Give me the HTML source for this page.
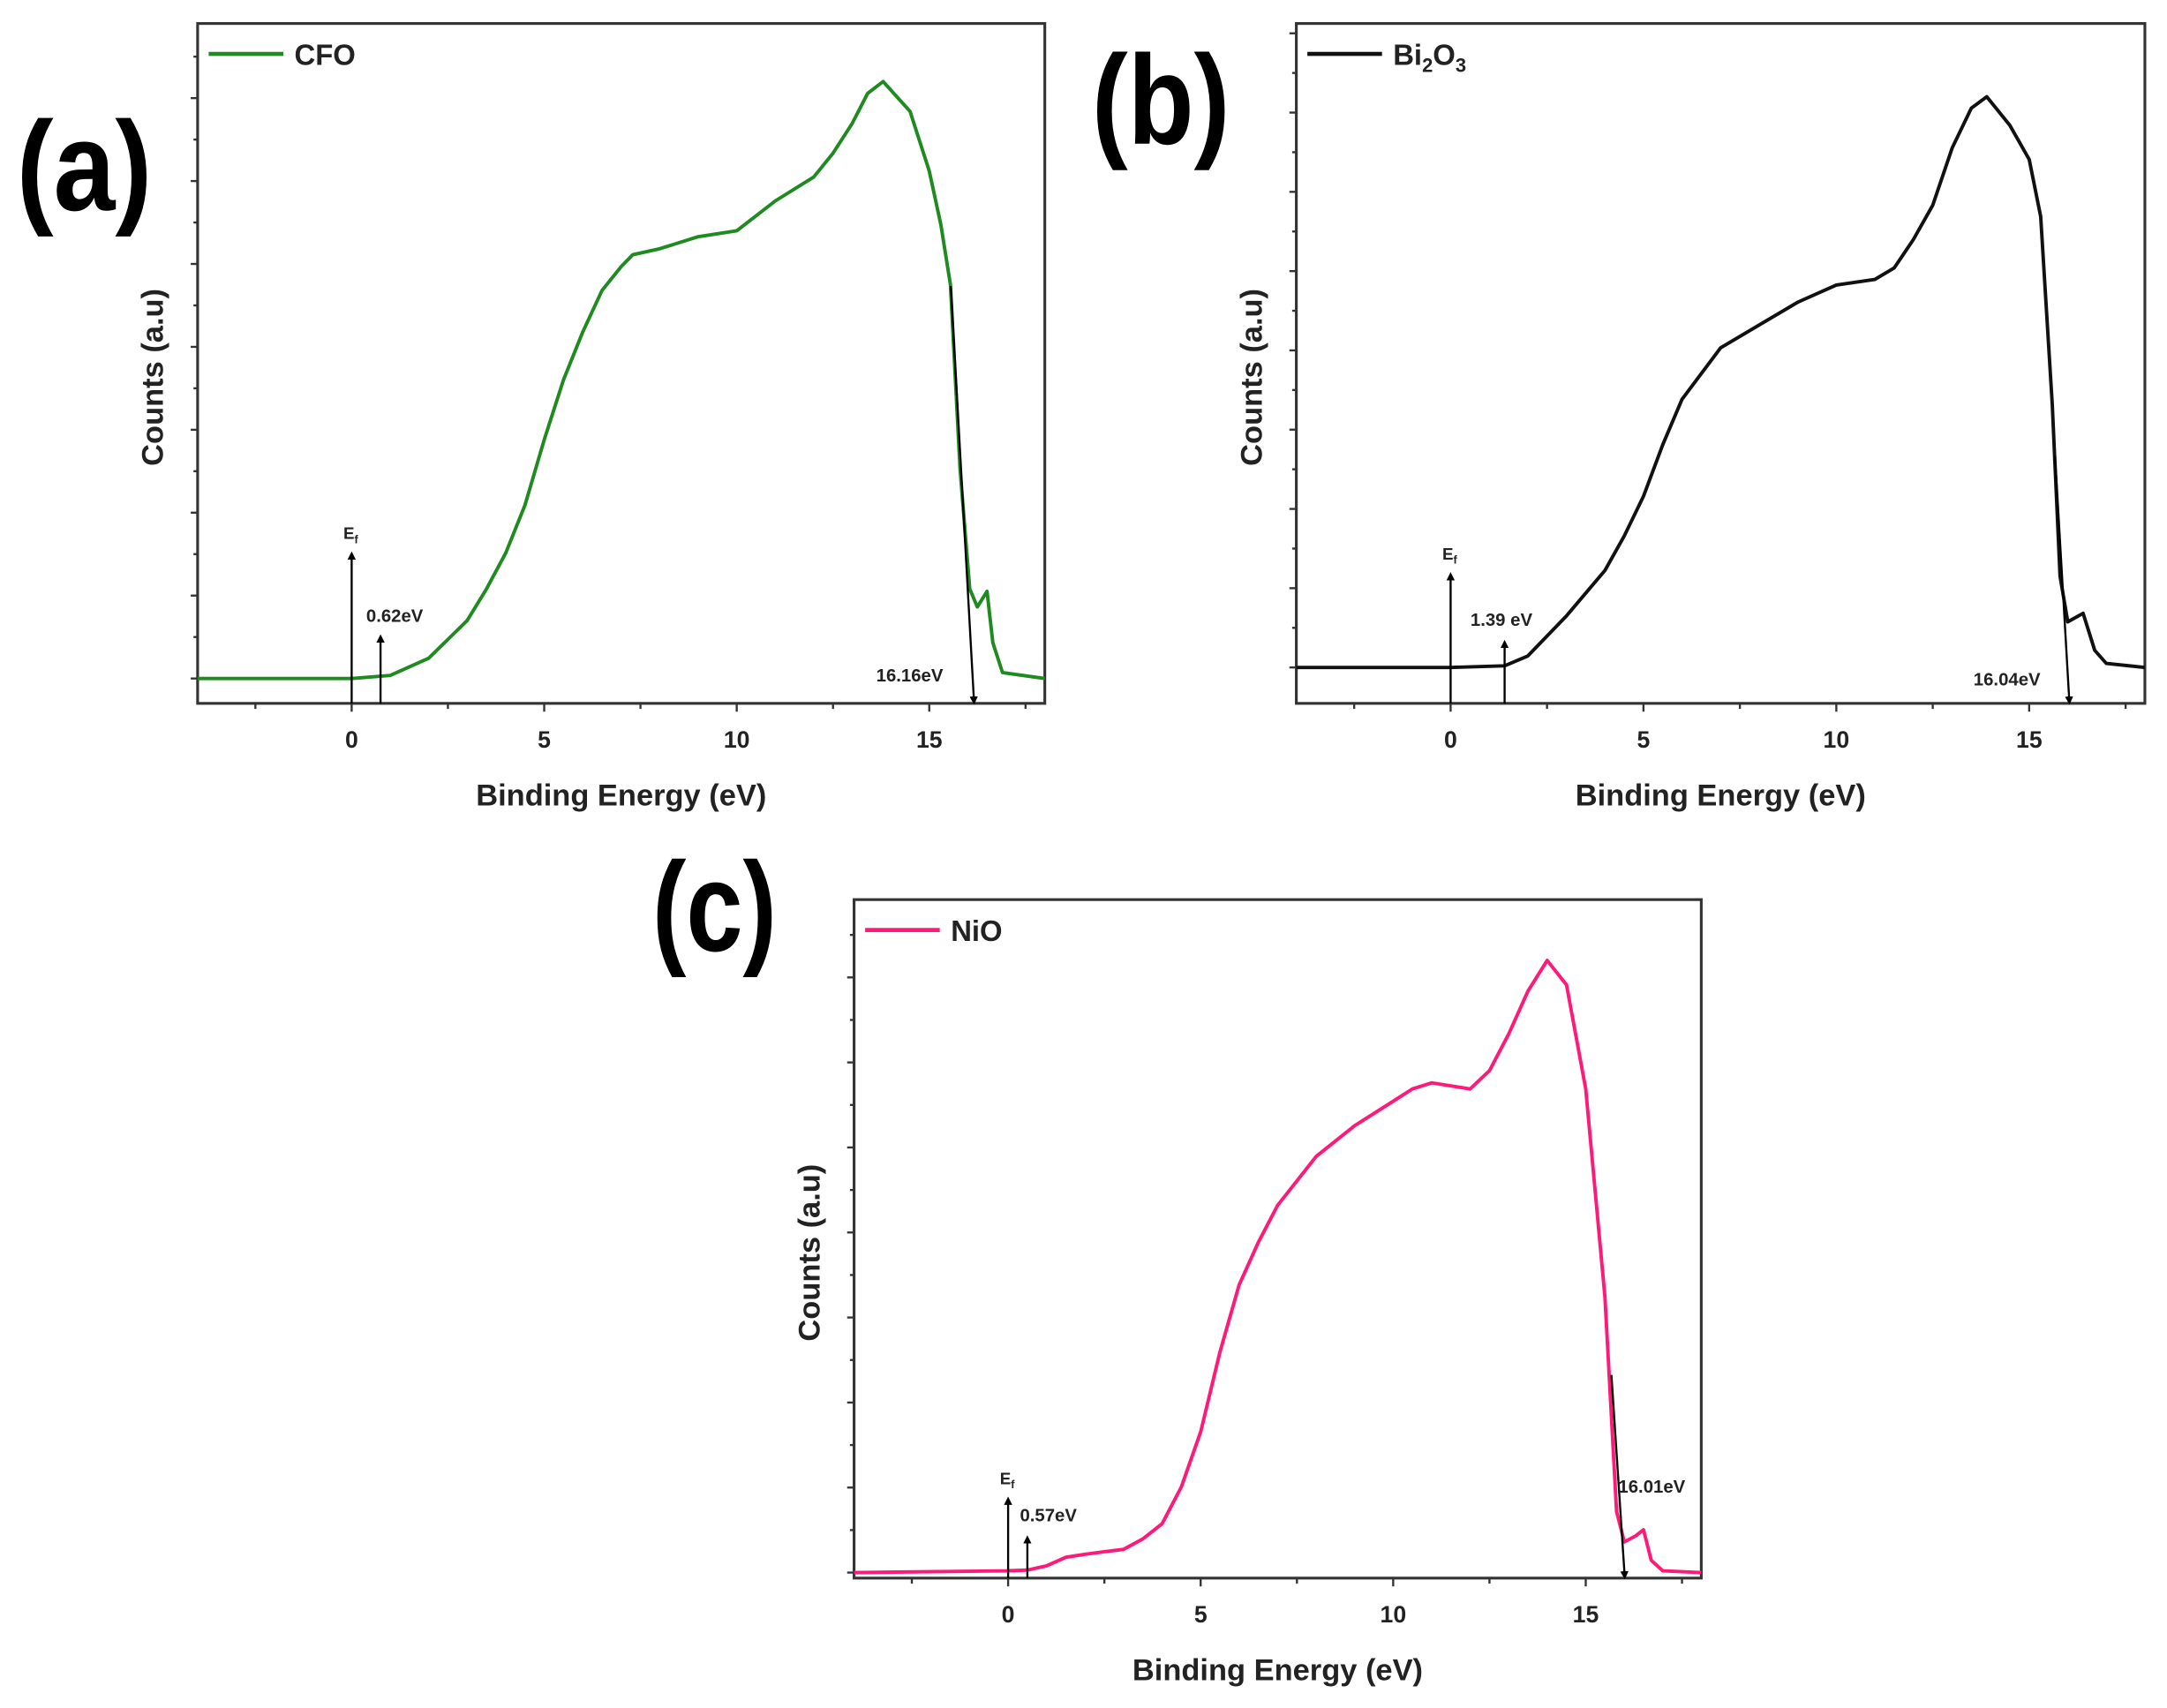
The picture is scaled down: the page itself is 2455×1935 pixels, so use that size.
<!DOCTYPE html>
<html><head><meta charset="utf-8"><style>
html,body{margin:0;padding:0;background:#fff}
svg{display:block}
text{font-family:"Liberation Sans",Arial,sans-serif;font-weight:bold}
</style></head><body>
<svg id="fig" xmlns="http://www.w3.org/2000/svg" width="2455" height="1935" viewBox="0 0 1568 1236" preserveAspectRatio="none">
<defs><marker id="ah" viewBox="0 0 10 10" refX="5" refY="5" markerWidth="4" markerHeight="6" orient="auto"><path d="M0,0 L10,5 L0,10 z" fill="#000"/></marker></defs>
</svg>
<script>
// Panel (a) CFO
const cfoEnergy = [-4,0,1,2,3,3.5,4,4.5,5,5.5,6,6.5,7,7.3,8,9,10,11,12,12.5,13,13.4,13.8,14.5,15,15.3,15.55,15.8,16.05,16.25,16.5,16.65,16.9,18];
const cfoCounts = [0,0,0.005,0.034,0.097,0.15,0.21,0.29,0.4,0.5,0.58,0.65,0.69,0.71,0.72,0.74,0.75,0.8,0.84,0.88,0.93,0.98,1.0,0.95,0.85,0.76,0.66,0.35,0.15,0.12,0.146,0.06,0.01,0];
// Panel (b) Bi2O3
const biEnergy = [-4,0,1.4,2,3,4,4.5,5,5.5,6,7,8,9,10,11,11.5,12,12.5,13,13.5,13.9,14.5,15,15.3,15.6,15.8,16,16.4,16.7,17,18];
const biCounts = [0,0,0.003,0.02,0.09,0.17,0.23,0.3,0.39,0.47,0.56,0.6,0.64,0.67,0.68,0.7,0.75,0.81,0.91,0.98,1.0,0.95,0.89,0.79,0.46,0.16,0.08,0.095,0.03,0.007,0];
// Panel (c) NiO
const nioEnergy = [-4,0,0.5,1,1.5,2,2.5,3,3.5,4,4.5,5,5.5,6,6.5,7,8,9,10,10.5,11,12,12.5,13,13.5,14,14.5,15,15.5,15.8,16,16.3,16.5,16.7,17,18];
const nioCounts = [0,0.003,0.004,0.011,0.025,0.03,0.034,0.038,0.055,0.08,0.14,0.23,0.36,0.47,0.54,0.6,0.68,0.73,0.77,0.79,0.8,0.79,0.82,0.88,0.95,1.0,0.96,0.79,0.45,0.1,0.05,0.06,0.07,0.02,0.003,0];
const xTicks = [0,5,10,15];
const xTickLabels = ["0","5","10","15"];
const xDomain = [-4,18];

const NS="http://www.w3.org/2000/svg";
const svg=document.getElementById('fig');
function mk(tag,attrs,parent){const e=document.createElementNS(NS,tag);for(const k in attrs)e.setAttribute(k,attrs[k]);(parent||svg).appendChild(e);return e;}

function panel(p){
  const g=mk('g',{});
  
  
  const sx=v=>p.x0+(v-xDomain[0])/(xDomain[1]-xDomain[0])*(p.x1-p.x0);
  const sy=v=>p.base-v*(p.base-p.peak);
  const lt=mk('text',{x:p.lx,y:p.ly,'font-size':92,textLength:p.lw,lengthAdjust:'spacingAndGlyphs'},g);lt.textContent=p.letter;
  
  
  const fr=mk('rect',{x:p.x0,y:p.y0,width:p.x1-p.x0,height:p.y1-p.y0,fill:'none',stroke:'#333','stroke-width':2},g);
  
  
  for(let v=-2.5;v<=17.5;v+=2.5){
    const major=xTicks.includes(v);
    mk('line',{x1:sx(v),x2:sx(v),y1:p.y1,y2:p.y1+(major?6:4),stroke:'#333','stroke-width':1.5},g);
  }
  xTicks.forEach((v,i)=>{const t=mk('text',{x:sx(v),y:p.y1+32,'font-size':17,'text-anchor':'middle',fill:'#222'},g);t.textContent=xTickLabels[i];
    
    });
  const step=(p.base-p.peak)/7.2;
  for(let k=0;;k++){const y=p.base-k*step/2;if(y<p.y0+5)break;
    mk('line',{x1:p.x0,x2:p.x0-(k%2?3:5),y1:y,y2:y,stroke:'#333','stroke-width':1.5},g);}
  const xt=mk('text',{x:(p.x0+p.x1)/2,y:p.y1+74,'font-size':22,'text-anchor':'middle',fill:'#222'},g);xt.textContent='Binding Energy (eV)';
  
  
  const cy=(p.y0+p.y1)/2+10;
  const yt=mk('text',{x:p.x0-25,y:cy,'font-size':22,'text-anchor':'middle',fill:'#222',transform:`rotate(-90 ${p.x0-25} ${cy})`},g);yt.textContent='Counts (a.u)';
  
  
  const ll=mk('line',{x1:p.x0+8,x2:p.x0+62,y1:p.y0+22,y2:p.y0+22,stroke:p.color,'stroke-width':3},g);
  
  
  const lg=mk('text',{x:p.x0+70,y:p.y0+30,'font-size':21,fill:'#222'},g);lg.innerHTML=p.legend;
  
  
  const d=p.ex.map((e,i)=>(i?'L':'M')+sx(e).toFixed(1)+','+sy(p.cy[i]).toFixed(1)).join(' ');
  const path=mk('path',{d:d,fill:'none',stroke:p.color,'stroke-width':2.5,'stroke-linejoin':'round'},g);
  
  
  const a1=mk('line',{x1:sx(0),x2:sx(0),y1:p.y1,y2:p.efTop,stroke:'#000','stroke-width':1.5,'marker-end':'url(#ah)'},g);
  
  
  const ef=mk('text',{x:sx(0)-6,y:p.efTop-12,'font-size':12,fill:'#222'},g);ef.innerHTML='E<tspan font-size="8" dy="3">f</tspan>';
  
  
  const a2=mk('line',{x1:sx(p.onset),x2:sx(p.onset),y1:p.y1,y2:p.onTop,stroke:'#000','stroke-width':1.5,'marker-end':'url(#ah)'},g);
  
  
  const ot=mk('text',{x:p.onLx,y:p.onLy,'font-size':13,fill:'#222'},g);ot.textContent=p.onLabel;
  
  
  const a3=mk('line',{x1:p.cutX0,y1:p.cutY0,x2:sx(p.cutoff),y2:p.y1-2,stroke:'#000','stroke-width':1.5,'marker-end':'url(#ah)'},g);
  
  
  const ct=mk('text',{x:p.cutLx,y:p.cutLy,'font-size':13,fill:'#222'},g);ct.textContent=p.cutLabel;
  
  
}

panel({name:'cfo',letter:'(a)',lx:12,ly:152,lw:98,x0:143,x1:756,y0:17,y1:509,base:491,peak:59,color:'#1f8a1f',
  legend:'CFO',ex:cfoEnergy,cy:cfoCounts,efTop:402,onset:0.75,onTop:462,onLabel:'0.62eV',onLx:265,onLy:450,
  cutoff:16.16,cutX0:688,cutY0:207,cutLabel:'16.16eV',cutLx:634,cutLy:493});
panel({name:'bi2o3',letter:'(b)',lx:790,ly:104,lw:100,x0:938,x1:1552,y0:17,y1:509,base:483,peak:70,color:'#111',
  legend:'Bi<tspan font-size="14" dy="5">2</tspan><tspan dy="-5">O</tspan><tspan font-size="14" dy="5">3</tspan>',
  ex:biEnergy,cy:biCounts,efTop:417,onset:1.4,onTop:466,onLabel:'1.39 eV',onLx:1064,onLy:453,
  cutoff:16.04,cutX0:1487,cutY0:330,cutLabel:'16.04eV',cutLx:1428,cutLy:496});
panel({name:'nio',letter:'(c)',lx:472,ly:688,lw:90,x0:618,x1:1231,y0:651,y1:1142,base:1138,peak:695,color:'#ff1a7a',
  legend:'NiO',ex:nioEnergy,cy:nioCounts,efTop:1086,onset:0.5,onTop:1114,onLabel:'0.57eV',onLx:738,onLy:1101,
  cutoff:16.01,cutX0:1166,cutY0:995,cutLabel:'16.01eV',cutLx:1171,cutLy:1080});
</script>
</body></html>
